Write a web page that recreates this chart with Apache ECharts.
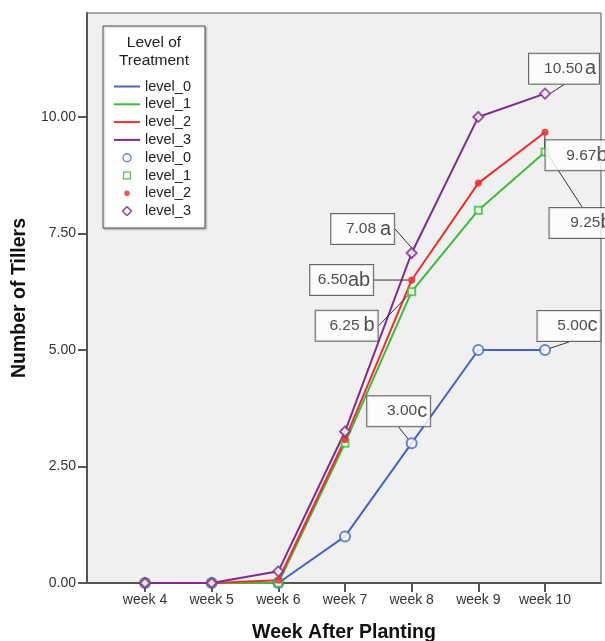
<!DOCTYPE html>
<html><head><meta charset="utf-8">
<script src="https://cdn.jsdelivr.net/npm/echarts@6/dist/echarts.min.js"></script>
<style>html,body{margin:0;padding:0;background:#fff}#c{width:605px;height:641px}</style>
</head><body><div id="c"></div>
<script>
// ---- data ----
const weeks = ['week 4', 'week 5', 'week 6', 'week 7', 'week 8', 'week 9', 'week 10'];
const seriesNames = ['level_0', 'level_1', 'level_2', 'level_3'];
const level0 = [0, 0, 0, 1.0, 3.0, 5.0, 5.0];
const level1 = [0, 0, 0, 3.0, 6.25, 8.0, 9.25];
const level2 = [0, 0, 0.06, 3.08, 6.50, 8.58, 9.67];
const level3 = [0, 0, 0.25, 3.25, 7.08, 10.0, 10.50];
const letters0 = ['', '', '', '', 'c', '', 'c'];
const letters1 = ['', '', '', '', 'b', '', 'b'];
const letters2 = ['', '', '', '', 'ab', '', 'b'];
const letters3 = ['', '', '', '', 'a', '', 'a'];
const yTicks = [0, 2.5, 5, 7.5, 10];

// ---- styles ----
const colors = ['#4466c2', '#3dbb3d', '#f22d2d', '#7f2b8f'];
const symbols = ['emptyCircle', 'emptyRect', 'circle', 'emptyDiamond'];
const symbolSizes = [10, 7, 6, 10];
const labelOffsets = [
  {4: [-13, -32], 6: [24, -24]},
  {4: [-65, 34], 6: [37, 71]},
  {4: [-70, 0], 6: [33, 23]},
  {4: [-49, -24], 6: [19, -25]}
];
const labelWidths = [{4: 56, 6: 56}, {4: 55, 6: 58}, {4: 56, 6: 58}, {4: 56, 6: 63}];
const letterGaps = [{4: 0, 6: 0}, {4: 4, 6: 0}, {4: 0, 6: 0}, {4: 4, 6: 2}];

const FONT = '"Liberation Sans", Arial, sans-serif';
const weekNums = weeks.map(w => Number(w.split(' ')[1]));
const values = [level0, level1, level2, level3];
const letters = [letters0, letters1, letters2, letters3];

function svgIcon(s) {
  const c = colors[s];
  const shapes = [
    `<circle cx='13' cy='5' r='4' fill='none' stroke='${c}' stroke-width='1.4'/>`,
    `<rect x='9.6' y='1.6' width='6.8' height='6.8' fill='none' stroke='${c}' stroke-width='1.4'/>`,
    `<circle cx='13' cy='5' r='2.8' fill='${c}'/>`,
    `<path d='M13,0.5 L17.5,5 L13,9.5 L8.5,5 Z' fill='none' stroke='${c}' stroke-width='1.6'/>`
  ];
  const svg = `<svg xmlns='http://www.w3.org/2000/svg' width='26' height='10' viewBox='0 0 26 10'>${shapes[s]}</svg>`;
  return 'image://data:image/svg+xml;charset=utf-8,' + encodeURIComponent(svg);
}

const lineSeries = seriesNames.map((n, s) => ({
  name: n, type: 'line', symbol: 'none', showSymbol: false, z: 2,
  lineStyle: {color: colors[s], width: 2}, itemStyle: {color: colors[s]},
  data: weekNums.map((w, i) => [w, values[s][i]])
}));
const scatterSeries = seriesNames.map((n, s) => ({
  name: n + ' ', type: 'scatter', symbol: symbols[s], symbolSize: symbolSizes[s], z: 3,
  itemStyle: {color: colors[s], borderColor: colors[s], borderWidth: 1.2},
  labelLine: {show: true, lineStyle: {color: '#333', width: 1}},
  labelLayout: function (p) {
    const off = labelOffsets[s][p.dataIndex];
    return off ? {dx: off[0], dy: off[1]} : {};
  },
  data: weekNums.map((w, i) => {
    const item = {value: [w, values[s][i]]};
    if (letters[s][i]) {
      item.label = {
        show: true, position: 'inside',
        width: labelWidths[s][i],
        fontFamily: FONT, color: '#222',
        backgroundColor: '#fff', borderColor: '#444', borderWidth: 1,
        padding: [5, 3, 5, 4],
        formatter: '{v|' + values[s][i].toFixed(2) + '}{l|' + letters[s][i] + '}',
        rich: {
          v: {fontSize: 15.5, color: '#222', fontFamily: FONT, align: 'right', lineHeight: 20},
          l: {fontSize: 20, color: '#222', fontFamily: FONT, align: 'right', lineHeight: 20,
              padding: [0, 0, 0, letterGaps[s][i]]}
        }
      };
    }
    return item;
  })
}));

const legendData = seriesNames.map(n => ({name: n, itemStyle: {opacity: 0}}))
  .concat(seriesNames.map((n, s) => ({name: n + ' ', icon: svgIcon(s)})));

const chart = echarts.init(document.getElementById('c'), null, {renderer: 'canvas'});
chart.setOption({
  backgroundColor: '#fff',
  animation: false,
  title: {
    text: 'Level of\nTreatment', left: 154, top: 34, textAlign: 'center', padding: 0, z: 11,
    textStyle: {fontSize: 15.5, fontWeight: 'normal', color: '#222', fontFamily: FONT, lineHeight: 18}
  },
  grid: {left: 87, right: 4, top: 13, bottom: 58, outerBoundsMode: 'none', containLabel: false,
         show: true, backgroundColor: '#f0f0f0', borderColor: '#555', borderWidth: 1},
  xAxis: {
    type: 'value', min: 3.13, max: 10.84,
    name: 'Week After Planting', nameLocation: 'middle', nameGap: 40,
    nameTextStyle: {fontSize: 19.5, fontWeight: 'bold', color: '#111', fontFamily: FONT},
    axisLine: {show: true, onZero: false, lineStyle: {color: '#555', width: 2}},
    axisTick: {show: true, length: 9, customValues: weekNums, lineStyle: {color: '#555', width: 2}},
    axisLabel: {customValues: weekNums, formatter: v => weeks[weekNums.indexOf(v)], fontSize: 14, color: '#333', fontFamily: FONT, margin: 10},
    splitLine: {show: false}
  },
  yAxis: {
    type: 'value', min: 0, max: 12.23,
    name: 'Number of Tillers', nameLocation: 'middle', nameGap: 49,
    nameTextStyle: {fontSize: 19.5, fontWeight: 'bold', color: '#111', fontFamily: FONT},
    axisLine: {show: true, lineStyle: {color: '#555', width: 2}},
    axisTick: {show: true, length: 9, customValues: yTicks, lineStyle: {color: '#555', width: 2}},
    axisLabel: {customValues: yTicks, formatter: v => v.toFixed(2), fontSize: 14, color: '#333', fontFamily: FONT, margin: 11},
    splitLine: {show: false}
  },
  legend: {
    orient: 'vertical', left: 113, top: 79, z: 10, padding: 0,
    itemWidth: 26, itemHeight: 10, itemGap: 2.8,
    data: legendData,
    formatter: n => n.trim(),
    textStyle: {fontSize: 14.5, lineHeight: 14, color: '#222', fontFamily: FONT}
  },
  graphic: [
    {type: 'rect', z: 5, shape: {x: 103, y: 26, width: 102, height: 202},
     style: {fill: '#fff', stroke: '#555', lineWidth: 1, shadowBlur: 2, shadowOffsetX: 1, shadowOffsetY: 1, shadowColor: 'rgba(0,0,0,0.3)'}}
  ],
  series: lineSeries.concat(scatterSeries)
});
</script></body></html>
